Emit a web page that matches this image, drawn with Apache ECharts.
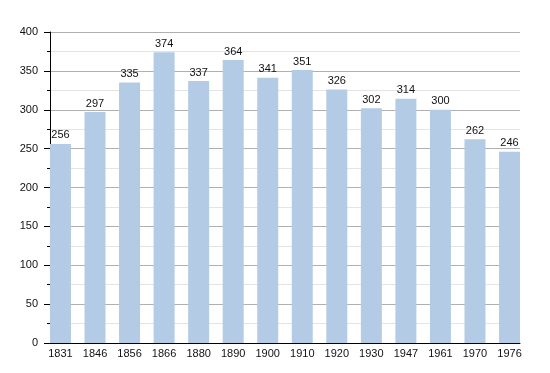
<!DOCTYPE html>
<html><head><meta charset="utf-8">
<script src="https://cdn.jsdelivr.net/npm/echarts@6/dist/echarts.min.js"></script>
<style>html,body{margin:0;padding:0;background:#fff}#c{width:550px;height:373px}</style>
</head><body><div id="c"></div>
<script>
const years = ['1831','1846','1856','1866','1880','1890','1900','1910','1920','1930','1947','1961','1970','1976'];
const population = [256,297,335,374,337,364,341,351,326,302,314,300,262,246];
const yTicks = {min:0, max:400, interval:50};

const chart = echarts.init(document.getElementById('c'), null, {renderer:'canvas'});
const font = 'Liberation Sans, Arial, sans-serif';
chart.setOption({
  animation:false,
  grid:[
    {left:50, right:30, top:32, bottom:30},
    {left:43.2, right:23.2, top:32, bottom:30}
  ],
  xAxis:[
    {gridIndex:0, type:'category', data:years, axisLine:{lineStyle:{color:'#000',width:1}}, axisTick:{show:false}, axisLabel:{show:false}, splitLine:{show:false}},
    {gridIndex:1, type:'category', data:years, axisLine:{show:false}, axisTick:{show:false},
     axisLabel:{color:'#111', fontSize:11, fontFamily:font, margin:5}}
  ],
  yAxis:[
    {gridIndex:0, type:'value', min:yTicks.min, max:yTicks.max, interval:yTicks.interval,
     axisLine:{show:true, lineStyle:{color:'#000',width:1}},
     axisTick:{show:true, length:6, lineStyle:{color:'#000'}},
     minorTick:{show:true, splitNumber:2, length:3, lineStyle:{color:'#000'}},
     axisLabel:{color:'#111', fontSize:11, fontFamily:font, margin:12},
     splitLine:{show:true, lineStyle:{color:'#b0b0b0', width:1}},
     minorSplitLine:{show:true, lineStyle:{color:'#e4e4e4', width:1}}},
    {gridIndex:1, type:'value', min:yTicks.min, max:yTicks.max, interval:yTicks.interval, show:false, splitLine:{show:false}}
  ],
  series:[{
    type:'bar', xAxisIndex:1, yAxisIndex:1, data:population, barWidth:21,
    itemStyle:{color:'#b3cbe5'},
    label:{show:true, position:'top', distance:3, color:'#111', fontSize:11, fontFamily:font}
  }]
});
</script></body></html>
